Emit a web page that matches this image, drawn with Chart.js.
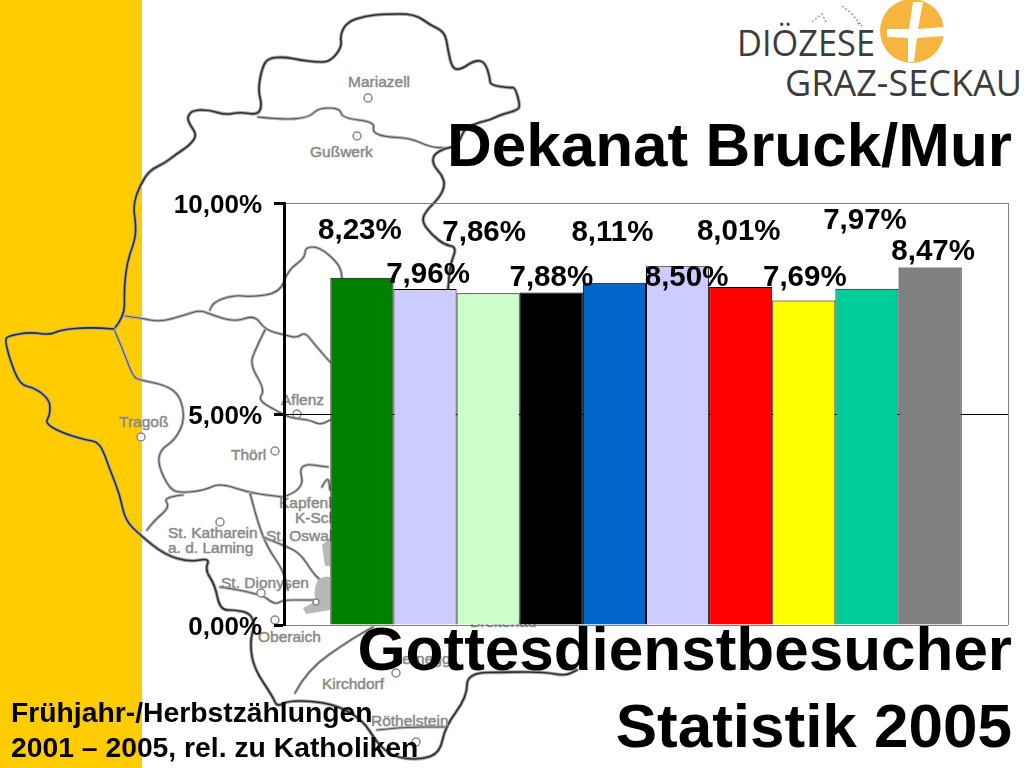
<!DOCTYPE html>
<html>
<head>
<meta charset="utf-8">
<title>Gottesdienstbesucher Statistik 2005</title>
<script src="https://cdn.jsdelivr.net/npm/chart.js@4"></script>
<style>
  html, body { margin: 0; padding: 0; background: #fff; }
  #slide { position: relative; width: 1024px; height: 768px; overflow: hidden; font-family: "Liberation Sans", Arial, sans-serif; }
  #band { position: absolute; left: 0; top: 0; width: 142px; height: 768px; background: #ffcc00; }
  #map, #logo, #chart { position: absolute; left: 0; top: 0; }
  .title { position: absolute; right: 12px; font-weight: bold; font-size: 62px; line-height: 62px; color: #000; white-space: nowrap; }
  #note { position: absolute; left: 11px; top: 695px; font-weight: bold; font-size: 28.3px; line-height: 35px; color: #000; white-space: nowrap; }
</style>
</head>
<body>
<div id="slide">
  <div id="band"></div>

  <svg id="map" width="1024" height="768" fill="none" stroke-linejoin="round" stroke-linecap="round">
    <g id="mapLines"></g>
    <g fill="#b8b8b8" stroke="none">
      <path d="M318 580 Q324 575 330 577 L330 600 L318 606 Q311 592 318 580 Z"/>
      <path d="M303 608 L318 600 L330 600 L330 610 L306 614 Z"/>
      <path d="M322 545 L330 538 L330 566 L325 566 Z"/>
    </g>
    <g fill="#fff" stroke="#888" stroke-width="1.5">
      <circle cx="368" cy="98" r="4"/>
      <circle cx="357" cy="136" r="4"/>
      <circle cx="297" cy="414" r="4"/>
      <circle cx="141" cy="437" r="4"/>
      <circle cx="275" cy="451" r="4"/>
      <circle cx="220" cy="522" r="4"/>
      <circle cx="261" cy="593" r="4"/>
      <circle cx="275" cy="620" r="4"/>
      <circle cx="316" cy="602" r="3"/>
      <circle cx="396" cy="673" r="4"/>
      <circle cx="416" cy="742" r="4"/>
    </g>
    <g id="mapNames" fill="#8a8a8a" stroke="#8a8a8a" stroke-width="0.5" font-family="Liberation Sans" font-size="15.5"></g>
  </svg>

  <svg id="logo" width="1024" height="768">
    <circle cx="912" cy="31" r="32" fill="#f5b53f"/>
    <path d="M913 2 L923 2 L918 29 L945 27 L945 36 L917 38 L914 62 L908 62 L908 38 L887 37 L887 29 L909 29 Z" fill="#fff"/>
    <g stroke="#999" stroke-width="1.5" fill="none" stroke-dasharray="2 2">
      <path d="M812 22 L822 14 L826 22"/>
      <path d="M842 6 L852 14 L862 26 L856 22"/>
    </g>
    <g font-family="Open Sans" fill="#3c3c3c">
      <text x="737" y="56" font-size="37" textLength="138" lengthAdjust="spacingAndGlyphs">DIÖZESE</text>
      <text x="785" y="96" font-size="37" textLength="237" lengthAdjust="spacingAndGlyphs">GRAZ-SECKAU</text>
    </g>
  </svg>

  <canvas id="chart" width="1024" height="768"></canvas>

  <div class="title" style="top:114px">Dekanat Bruck/Mur</div>
  <div class="title" style="top:618px">Gottesdienstbesucher</div>
  <div class="title" style="top:695px">Statistik 2005</div>
  <div id="note">Frühjahr-/Herbstzählungen<br>2001 – 2005, rel. zu Katholiken</div>
</div>

<script>
// Werte
const categories = ["2005"];
const values = [8.23, 7.96, 7.86, 7.88, 8.11, 8.50, 8.01, 7.69, 7.97, 8.47];
const barColors = ["#008000", "#ccccff", "#ccffcc", "#000000", "#0066cc", "#ccccff", "#ff0000", "#ffff00", "#00cc99", "#808080"];
const yTicks = [0, 5, 10];

// Verschiebung der Beschriftungen gegen Balkenmitte / Balkenoberkante
const labelDx = [-2, 3, -4, 0, -2, 9, -2, 1, -2, 3];
const labelDy = [-47, -14, -60, -15, -50, 12, -55, -23, -68, -16];

// Landkarte im Hintergrund: Außengrenze dunkel, Innengrenzen heller
const outerPaths = [
  "114,329 125,316 124,290 127,262 135,240 136,225 133,205 140,185 150,170 165,163 175,155 190,145 197,135 190,125 187,117 193,110 210,110 225,115 240,112 258,115 262,105 258,90 262,68 268,58 285,57 300,60 315,62 330,62 342,47 340,35 347,22 365,16 385,14 415,14 430,25 445,32 448,50 452,68 460,70 475,60 485,62 490,78 490,85 510,88 515,87 520,105 518,110 500,115 490,120 480,122 465,128 460,140 455,147 445,148 433,155 433,165 442,175 445,185 440,197 425,212 422,222 432,235 445,245 457,247 450,265 448,290",
  "114,329 90,327 60,330 50,335 30,332 8,336 5,340 10,360 20,385 35,388 50,400 50,415 45,423 60,432 85,440 100,442 110,470 120,495 125,520 140,535 165,555 190,562 210,558 205,570 215,585 220,610 235,610 250,613 255,625 250,640 253,667 273,697 277,707 290,700 333,703 363,720 377,743 393,757 420,760 440,753 445,727 467,697 467,673 508,672 545,672 565,676 577,670"
];
const innerPaths = [
  "258,117 285,120 310,117 318,108 340,108 342,118 375,122 372,132 385,137 410,138 430,147 445,148",
  "114,329 123,350 133,377 140,380 165,385 180,395 185,420 175,440 160,450 158,465 170,490 183,493 205,490 220,483 250,493 283,497",
  "125,316 140,318 160,322 185,315 200,310 212,315 235,322 255,315 265,330 285,335 297,338 305,332 315,345 330,362",
  "210,310 212,302 235,295 250,297 280,293 288,270 305,258 305,247 320,247 340,265 342,278",
  "183,495 163,497 170,507 155,520 147,530",
  "250,493 257,520 267,547 283,570 288,590",
  "263,537 283,545 300,553 313,573 320,580",
  "265,330 255,350 250,365 265,390 258,400 275,410 290,418 310,420 320,425 330,420",
  "220,587 260,593 275,605 283,600 300,600 317,600",
  "283,497 305,490 298,463 328,467",
  "322,487 328,475 330,490",
  "295,693 307,670 350,640 373,627",
  "377,730 400,727 447,727"
];
const mapNames = [
  ["Mariazell", 348, 87], ["Gußwerk", 310, 157], ["Aflenz", 281, 405], ["Tragoß", 119, 427],
  ["Thörl", 231, 460], ["Kapfenberg", 279, 508], ["K-Schirmitz", 295, 523], ["St. Oswald", 266, 541],
  ["St. Katharein", 168, 538], ["a. d. Laming", 168, 553], ["St. Dionysen", 221, 588], ["Oberaich", 258, 642],
  ["Breitenau", 470, 627], ["Pernegg", 392, 664], ["Kirchdorf", 322, 689], ["Röthelstein", 371, 726]
];

const svgNS = "http://www.w3.org/2000/svg";

// Polylinie über die Streckenmitten glätten
function smoothPath(text) {
  const pts = text.split(" ").map((p) => p.split(",").map(Number));
  let d = `M${pts[0][0]} ${pts[0][1]}`;
  for (let i = 1; i < pts.length - 1; i++) {
    const mx = (pts[i][0] + pts[i + 1][0]) / 2;
    const my = (pts[i][1] + pts[i + 1][1]) / 2;
    d += ` Q${pts[i][0]} ${pts[i][1]} ${mx} ${my}`;
  }
  const last = pts[pts.length - 1];
  return d + ` L${last[0]} ${last[1]}`;
}

const linesGroup = document.getElementById("mapLines");
function addLine(text, halo, core, haloWidth, coreWidth) {
  [[halo, haloWidth], [core, coreWidth]].forEach(([color, width]) => {
    const p = document.createElementNS(svgNS, "path");
    p.setAttribute("d", smoothPath(text));
    p.setAttribute("stroke", color);
    p.setAttribute("stroke-width", width);
    linesGroup.appendChild(p);
  });
}
innerPaths.forEach((t) => addLine(t, "#b4b4b4", "#5a5a5a", 3, 1.1));
outerPaths.forEach((t) => addLine(t, "#a8a8a8", "#2e2e2e", 3.6, 1.6));

const namesGroup = document.getElementById("mapNames");
mapNames.forEach(([name, x, y]) => {
  const t = document.createElementNS(svgNS, "text");
  t.setAttribute("x", x);
  t.setAttribute("y", y);
  t.textContent = name;
  namesGroup.appendChild(t);
});

const fmt = (v) => v.toFixed(2).replace(".", ",") + "%";

// rechter Rand der Zeichenfläche
const plotFrame = {
  id: "plotFrame",
  beforeDatasetsDraw(chart) {
    const { ctx, chartArea: a } = chart;
    ctx.save();
    ctx.strokeStyle = "#808080";
    ctx.lineWidth = 1;
    ctx.beginPath();
    ctx.moveTo(a.right + 0.5, a.top);
    ctx.lineTo(a.right + 0.5, a.bottom);
    ctx.stroke();
    ctx.restore();
  }
};

// Prozentwerte über den Balken
const barLabels = {
  id: "barLabels",
  afterDatasetsDraw(chart) {
    const { ctx } = chart;
    ctx.save();
    ctx.font = "bold 29.5px 'Liberation Sans'";
    ctx.fillStyle = "#000";
    ctx.textAlign = "center";
    ctx.textBaseline = "middle";
    values.forEach((v, i) => {
      const bar = chart.getDatasetMeta(i).data[0];
      ctx.fillText(fmt(v), bar.x + labelDx[i], bar.y + labelDy[i]);
    });
    ctx.restore();
  }
};

new Chart(document.getElementById("chart"), {
  type: "bar",
  data: {
    labels: categories,
    datasets: values.map((v, i) => ({
      label: fmt(v),
      data: [v],
      backgroundColor: barColors[i],
      borderColor: "#000",
      borderWidth: 1,
      categoryPercentage: 0.872,
      barPercentage: 1
    }))
  },
  options: {
    responsive: false,
    animation: false,
    layout: { padding: { top: 203, right: 16, bottom: 143, left: 0 } },
    plugins: { legend: { display: false }, tooltip: { enabled: false }, title: { display: false } },
    scales: {
      x: { display: false },
      y: {
        min: 0,
        max: 10,
        afterBuildTicks: (scale) => { scale.ticks = yTicks.map((value) => ({ value })); },
        afterFit: (scale) => { scale.width = 284; },
        border: { color: "#000", width: 3 },
        grid: {
          color: (c) => (c.tick && c.tick.value === 5 ? "#000" : "#808080"),
          lineWidth: 1,
          tickColor: "#000",
          tickWidth: 3,
          tickLength: 10
        },
        ticks: {
          callback: (v) => fmt(v),
          color: "#000",
          padding: 12,
          labelOffset: 2.5,
          font: { family: "Liberation Sans", weight: "bold", size: 26 }
        }
      }
    }
  },
  plugins: [plotFrame, barLabels]
});
</script>
</body>
</html>
